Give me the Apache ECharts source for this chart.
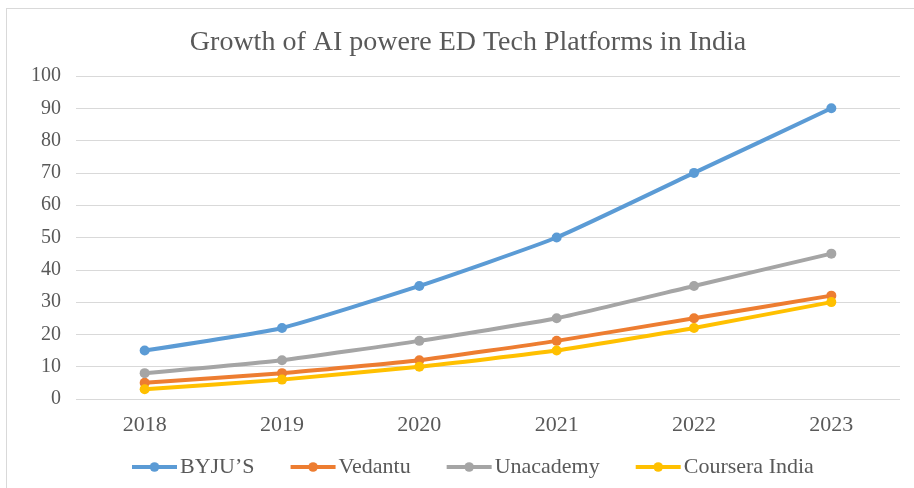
<!DOCTYPE html>
<html>
<head>
<meta charset="utf-8">
<script src="https://cdn.jsdelivr.net/npm/echarts@6/dist/echarts.min.js"></script>
<style>
  html, body { margin: 0; padding: 0; background: #fff; overflow: hidden; }
  #frame { position: absolute; left: 6px; top: 8px; width: 920px; height: 490px; border: 1px solid #d9d9d9; }
  #chart { position: absolute; left: 0; top: 0; width: 914px; height: 488px; }
</style>
</head>
<body>
<div id="frame"></div>
<div id="chart"></div>
<script>
  var years = ['2018', '2019', '2020', '2021', '2022', '2023'];
  var byjus = [15, 22, 35, 50, 70, 90];
  var vedantu = [5, 8, 12, 18, 25, 32];
  var unacademy = [8, 12, 18, 25, 35, 45];
  var coursera = [3, 6, 10, 15, 22, 30];

  var serif = '"Liberation Serif", "DejaVu Serif", serif';

  function line(name, values, color) {
    return {
      name: name,
      type: 'line',
      data: values,
      smooth: 0.15,
      symbol: 'circle',
      symbolSize: 10,
      lineStyle: { width: 4, color: color },
      itemStyle: { color: color }
    };
  }

  var myChart = echarts.init(document.getElementById('chart'));
  var option = {
    animation: false,
    title: {
      text: 'Growth of AI powere ED Tech Platforms in India',
      left: 463,
      textAlign: 'center',
      top: 24,
      textStyle: { fontFamily: serif, fontSize: 28, fontWeight: 'normal', color: '#595959' }
    },
    legend: {
      top: 451,
      left: 125,
      itemWidth: 45,
      itemHeight: 12,
      itemGap: 34,
      lineStyle: { width: 4 },
      textStyle: { fontFamily: serif, fontSize: 22, color: '#595959', padding: [0, 0, 0, -2] },
      data: ["BYJU\u2019S", 'Vedantu', 'Unacademy', 'Coursera India']
    },
    grid: { left: 76, right: 14, top: 76, bottom: 89 },
    xAxis: {
      type: 'category',
      data: years,
      axisLine: { show: false },
      axisTick: { show: false },
      axisLabel: { fontFamily: serif, fontSize: 22, color: '#595959', margin: 15 }
    },
    yAxis: {
      type: 'value',
      min: 0,
      max: 100,
      interval: 10,
      axisLine: { show: false },
      axisTick: { show: false },
      axisLabel: { fontFamily: serif, fontSize: 20, color: '#595959', margin: 15 },
      splitLine: { lineStyle: { color: '#d9d9d9', width: 1 } }
    },
    series: [
      line("BYJU\u2019S", byjus, '#5B9BD5'),
      line('Vedantu', vedantu, '#ED7D31'),
      line('Unacademy', unacademy, '#A5A5A5'),
      line('Coursera India', coursera, '#FFC000')
    ]
  };
  myChart.setOption(option);
</script>
</body>
</html>
